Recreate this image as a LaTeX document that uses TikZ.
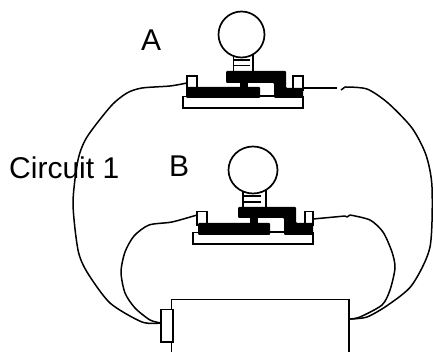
\documentclass[tikz,border=0pt]{standalone}
\usepackage{fontspec}
\setmainfont{Liberation Sans}
\tikzset{
  outl/.style={draw=black,line width=1.7pt,fill=white},
  solid black/.style={fill=black,rounded corners=1pt},
  wire/.style={draw=black,line width=1.5pt,line join=round},
  lbl/.style={font=\fontsize{30}{30}\selectfont,text=black,inner sep=0pt,anchor=base west}
}
\begin{document}
\begin{tikzpicture}[x=1pt,y=-1pt]
\useasboundingbox (0,0) rectangle (433,352);
% battery
\draw[outl,fill=none] (171.5,352) -- (171.5,299.5) -- (349,299.5) -- (349,352);
\draw[outl] (161,309.5) rectangle (173,342);
\coordinate (termL) at (161,323);
\coordinate (battR) at (350,319);
% Bulb A
\draw[outl] (233.5,55) rectangle (253,72);
\draw[line width=1.7pt] (233,60) -- (250,60) (233,65.5) -- (250,65.5);
\draw[outl] (241.5,34.5) circle (23);
\draw[outl] (183,96.5) rectangle (303,108);
\draw[outl] (187,76) rectangle (197,90);
\draw[outl] (293,76) rectangle (303,90);
\draw[line width=1.3pt] (260,96) -- (275,96);
\fill[black] (240,82) rectangle (248,88);
\path[solid black] (226,71) -- (286,71) -- (286,88) -- (303,88) -- (303,98) -- (274,98) -- (274,83) -- (226,83) -- cycle;
\path[solid black] (186,87) rectangle (260,98);
\coordinate (Apl) at (187,83);
\coordinate (Apr) at (303,88);
% Bulb B
\draw[outl] (243,190) rectangle (266,208);
\draw[line width=1.7pt] (243,196) -- (261,196) (243,202) -- (261,202);
\draw[outl] (253,170) ellipse (24.5 and 23.5);
\draw[outl] (193,232.5) rectangle (313,244);
\draw[outl] (197,211.5) rectangle (207,225);
\draw[outl] (305,211.5) rectangle (313,225);
\draw[line width=1.3pt] (270,232) -- (285,232);
\fill[black] (250,217) rectangle (258,224);
\path[solid black] (238,207) -- (296,207) -- (296,223) -- (313,223) -- (313,235) -- (284,235) -- (284,218) -- (238,218) -- cycle;
\path[solid black] (198,223) rectangle (270,235);
\coordinate (Bpl) at (197,215);
\coordinate (Bpr) at (313,219);
% wires
\draw[wire] plot[smooth,tension=.45] coordinates {(Apl) (170,86) (142,88) (127,93) (111,106) (87,137) (78,160) (73,203) (78,250) (87,272) (110,303) (142,322) (termL)};
\draw[wire] plot[smooth,tension=.45] coordinates {(Bpl) (172,222) (149,225) (134,236) (125,252) (121,272) (125,293) (135,308) (150,320) (termL)};
\draw[wire] (Apr) -- (337,88);
\draw[wire] plot[smooth,tension=.45] coordinates {(345,87) (367,89) (388,103) (412,128) (426,155) (432,187) (430,247) (412,285) (388,305) (367,317) (battR)};
\draw[wire] (341,90) -- (345,87);
\draw[wire] (Bpr) -- (345,216) -- (347,217) -- (350,215);
\draw[wire] plot[smooth,tension=.45] coordinates {(350,215) (370,220) (383,232) (392,252) (395,268) (390,290) (382,305) (360,317) (battR)};
% labels
\node[lbl] (labA) at (141,51) {A};
\node[lbl] (labB) at (169,177) {B};
\node[lbl] (labC) at (9,179) {Circuit 1};
\end{tikzpicture}
\end{document}
